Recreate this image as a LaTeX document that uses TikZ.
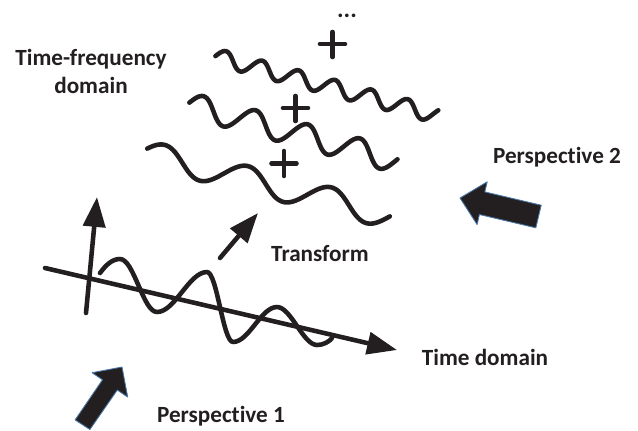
\documentclass[tikz,border=0pt]{standalone}
\usepackage{fontspec}
\setmainfont{Carlito}[Ligatures=NoCommon]
\usetikzlibrary{arrows.meta}
\definecolor{ink}{HTML}{231F20}
\definecolor{glow}{HTML}{4A78AA}

\begin{document}
\begin{tikzpicture}[x=0.02cm,y=-0.02cm,line cap=round,line join=round,
    stroke/.style={draw=ink,line width=2.6pt},
    axisarrow/.style={stroke,-{Triangle[length=17pt,width=12.5pt]}},
    lbl/.style={text=ink,font=\fontsize{13.2}{16}\selectfont\bfseries,anchor=base,inner sep=0pt},
    bigarrow/.style={fill=ink,draw=glow,line width=0.5pt}]

        \useasboundingbox (0,0) rectangle (638,430);

        %Labels
        \node[lbl] (tf)  at (91,65)    {Time-frequency};
        \node[lbl] (dom) at (91,93)    {domain};
        \node[lbl] (p2)  at (557,163)  {Perspective 2};
        \node[lbl] (tr)  at (320,261.5) {Transform};
        \node[lbl] (td)  at (485,365)  {Time domain};
        \node[lbl] (p1)  at (221,422.5) {Perspective 1};
        \node[lbl,font=\fontsize{14}{16}\selectfont\bfseries] (dots) at (347,17.5) {...};

        %Time-frequency waves
        \draw[stroke] plot[domain=-9:220.3,samples=240]
            ({224+(\x)*cos(14.8)+8*cos(9.5745*(\x))*sin(14.8)},
             {58.9+(\x)*sin(14.8)-8*cos(9.5745*(\x))*cos(14.8)});
        \draw[stroke] plot[domain=-12:203.7,samples=240]
            ({200.4+(\x)*cos(15.1)+12*cos(6.6667*(\x))*sin(15.1)},
             {107.8+(\x)*sin(15.1)-12*cos(6.6667*(\x))*cos(15.1)});
        \draw[stroke] plot[domain=-16:235.8,samples=240]
            ({161.5+(\x)*cos(14.3)+13*cos(4.186*(\x))*sin(14.3)},
             {157.5+(\x)*sin(14.3)-13*cos(4.186*(\x))*cos(14.3)});

        %Plus signs
        \draw[stroke] (320,44) -- (345,44) (332.5,32) -- (332.5,57);
        \draw[stroke] (283,108) -- (308,108) (295.5,96) -- (295.5,121);
        \draw[stroke] (271.5,163.5) -- (296.5,163.5) (284,151) -- (284,176);

        %Time domain axes and signal
        \draw[axisarrow] (86,313) -- (97,197);
        \draw[axisarrow] (45,268) -- (397,350);
        \draw[stroke] (100,273) .. controls (106,265) and (112,259) .. (120,259)
            .. controls (134,259) and (143,312) .. (157,312)
            .. controls (175,312) and (189,272) .. (207,272)
            .. controls (217,272) and (223,342) .. (233,342)
            .. controls (249,342) and (261,307) .. (277,307)
            .. controls (291,307) and (303,345) .. (317,345)
            .. controls (323,345) and (329,342) .. (332,338);

        %Transform
        \draw[axisarrow] (220,258) -- (258,213);

        %Perspectives
        \draw[bigarrow] (75.1,419.9) -- (102.5,379.8) -- (92.1,372.7) -- (122,367)
            -- (127.7,397.1) -- (117.3,390) -- (89.9,429.5) -- cycle;
        \draw[bigarrow] (541.2,205.2) -- (484.8,191.9) -- (487.2,181.8) -- (460,198)
            -- (477.1,224.6) -- (479.4,214.5) -- (535.8,227.8) -- cycle;

\end{tikzpicture}
\end{document}
